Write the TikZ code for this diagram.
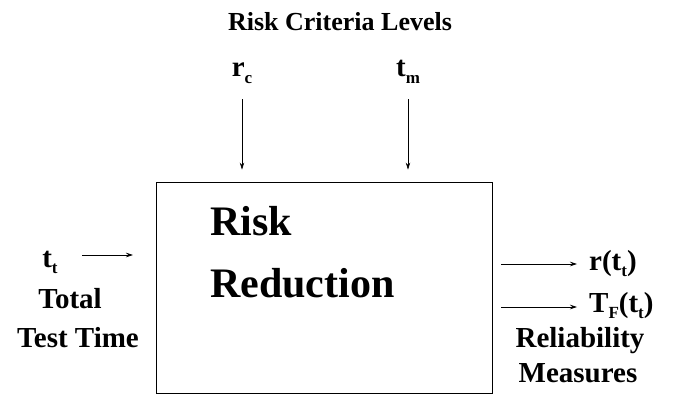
\documentclass[tikz,border=0pt]{standalone}
\usepackage{fontspec}
\setmainfont{Liberation Serif}
\usetikzlibrary{arrows.meta}

\newcommand{\lo}[1]{\raisebox{-0.22em}{\fontsize{17}{17}\selectfont #1}}

\tikzset{
  lbl/.style={font=\fontsize{29}{31}\selectfont\bfseries, inner sep=0pt, anchor=base},
  arr/.style={-{Stealth[length=7pt,width=4.5pt]}, line width=0.7pt}
}

\begin{document}
\begin{tikzpicture}[x=1pt,y=-1pt]

	\useasboundingbox (0,0) rectangle (677,396);

	% title and criteria
	\node [lbl, font=\fontsize{26}{28}\selectfont\bfseries] (title) at (340,31) {Risk Criteria Levels};
	\node [lbl] (rc) at (242,77) {r\lo{c}};
	\node [lbl] (tm) at (408,77) {t\lo{m}};

	% box
	\node [draw, line width=0.8pt, minimum width=336pt, minimum height=211pt, inner sep=0pt] (box) at (324,287.5) {};
	\node [lbl, anchor=base west, font=\fontsize{42}{44}\selectfont\bfseries] (risk) at (210,235) {Risk};
	\node [lbl, anchor=base west, font=\fontsize{42}{44}\selectfont\bfseries] (reduction) at (210,297) {Reduction};

	% input
	\node [lbl] (tt) at (50,267) {t\lo{t}};
	\node [lbl] (total) at (70,308) {Total};
	\node [lbl] (testtime) at (78,347) {Test Time};
	\coordinate (in) at (133,255);

	% outputs
	\coordinate (out1) at (501,264);
	\coordinate (out2) at (501,307);
	\node [lbl, anchor=base west] (r) at (589,270) {r(t\lo{t})};
	\node [lbl, anchor=base west] (tf) at (589,312) {T\lo{F}(t\lo{t})};
	\node [lbl] (reliability) at (580,347) {Reliability};
	\node [lbl] (measures) at (578,382) {Measures};

	% arrows
	\draw [arr, shorten <=22pt, shorten >=12pt] (rc.base) -- (rc.base |- box.north);
	\draw [arr, shorten <=22pt, shorten >=12pt] (tm.base) -- (tm.base |- box.north);
	\draw [arr] (in) ++(-51,0) -- (in);
	\draw [arr, shorten >=12pt] (out1) -- (out1 -| r.west);
	\draw [arr, shorten >=12pt] (out2) -- (out2 -| tf.west);

\end{tikzpicture}
\end{document}
